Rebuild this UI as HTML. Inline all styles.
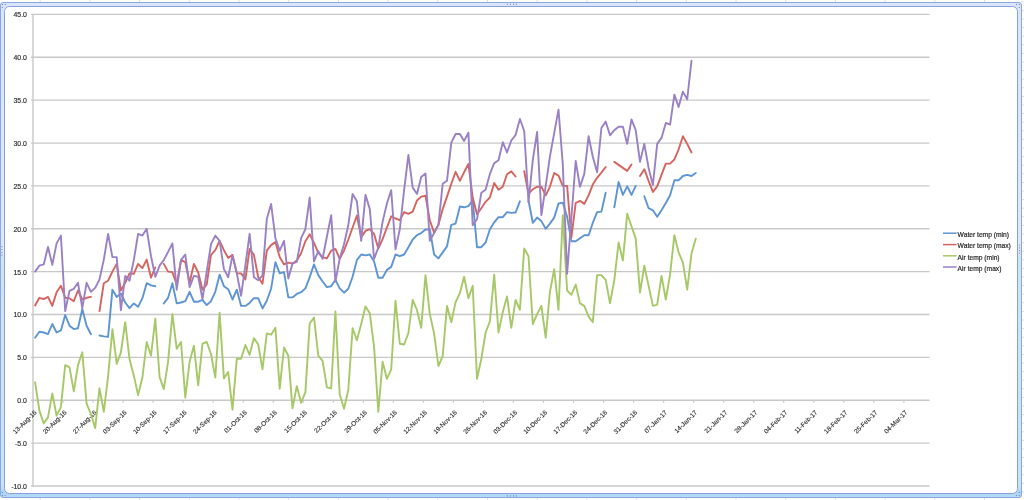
<!DOCTYPE html><html><head><meta charset="utf-8"><title>Water and air temperature chart</title><style>html,body{margin:0;padding:0;background:#fff;width:1024px;height:500px;overflow:hidden}svg{display:block}text{font-family:"Liberation Sans",Arial,sans-serif;}</style></head><body><svg width="1024" height="500" viewBox="0 0 1024 500"><defs><linearGradient id="band" x1="0" y1="0" x2="0" y2="1"><stop offset="0" stop-color="#d8e5fb"/><stop offset="0.5" stop-color="#dde9fb"/><stop offset="0.515" stop-color="#cde5f1"/><stop offset="0.975" stop-color="#c8e3f2"/><stop offset="0.99" stop-color="#acd6f5"/><stop offset="1" stop-color="#b8dcf6"/></linearGradient></defs><rect x="0" y="0" width="1024" height="500" fill="#ffffff"/><g stroke="#dcdcdc" stroke-width="1"><line x1="40.2" y1="0" x2="40.2" y2="3"/><line x1="40.2" y1="497" x2="40.2" y2="500"/><line x1="89.9" y1="0" x2="89.9" y2="3"/><line x1="89.9" y1="497" x2="89.9" y2="500"/><line x1="139.6" y1="0" x2="139.6" y2="3"/><line x1="139.6" y1="497" x2="139.6" y2="500"/><line x1="189.3" y1="0" x2="189.3" y2="3"/><line x1="189.3" y1="497" x2="189.3" y2="500"/><line x1="239.0" y1="0" x2="239.0" y2="3"/><line x1="239.0" y1="497" x2="239.0" y2="500"/><line x1="288.7" y1="0" x2="288.7" y2="3"/><line x1="288.7" y1="497" x2="288.7" y2="500"/><line x1="338.4" y1="0" x2="338.4" y2="3"/><line x1="338.4" y1="497" x2="338.4" y2="500"/><line x1="388.1" y1="0" x2="388.1" y2="3"/><line x1="388.1" y1="497" x2="388.1" y2="500"/><line x1="437.8" y1="0" x2="437.8" y2="3"/><line x1="437.8" y1="497" x2="437.8" y2="500"/><line x1="487.5" y1="0" x2="487.5" y2="3"/><line x1="487.5" y1="497" x2="487.5" y2="500"/><line x1="537.2" y1="0" x2="537.2" y2="3"/><line x1="537.2" y1="497" x2="537.2" y2="500"/><line x1="586.9" y1="0" x2="586.9" y2="3"/><line x1="586.9" y1="497" x2="586.9" y2="500"/><line x1="636.6" y1="0" x2="636.6" y2="3"/><line x1="636.6" y1="497" x2="636.6" y2="500"/><line x1="686.3" y1="0" x2="686.3" y2="3"/><line x1="686.3" y1="497" x2="686.3" y2="500"/><line x1="736.0" y1="0" x2="736.0" y2="3"/><line x1="736.0" y1="497" x2="736.0" y2="500"/><line x1="785.7" y1="0" x2="785.7" y2="3"/><line x1="785.7" y1="497" x2="785.7" y2="500"/><line x1="835.4" y1="0" x2="835.4" y2="3"/><line x1="835.4" y1="497" x2="835.4" y2="500"/><line x1="885.1" y1="0" x2="885.1" y2="3"/><line x1="885.1" y1="497" x2="885.1" y2="500"/><line x1="934.8" y1="0" x2="934.8" y2="3"/><line x1="934.8" y1="497" x2="934.8" y2="500"/><line x1="984.5" y1="0" x2="984.5" y2="3"/><line x1="984.5" y1="497" x2="984.5" y2="500"/><line x1="1021" y1="1.8" x2="1024" y2="1.8"/><line x1="1021" y1="10.4" x2="1024" y2="10.4"/><line x1="1021" y1="19.0" x2="1024" y2="19.0"/><line x1="1021" y1="27.6" x2="1024" y2="27.6"/><line x1="1021" y1="36.2" x2="1024" y2="36.2"/><line x1="1021" y1="44.8" x2="1024" y2="44.8"/><line x1="1021" y1="53.4" x2="1024" y2="53.4"/><line x1="1021" y1="62.0" x2="1024" y2="62.0"/><line x1="1021" y1="70.6" x2="1024" y2="70.6"/><line x1="1021" y1="79.2" x2="1024" y2="79.2"/><line x1="1021" y1="87.8" x2="1024" y2="87.8"/><line x1="1021" y1="96.4" x2="1024" y2="96.4"/><line x1="1021" y1="105.0" x2="1024" y2="105.0"/><line x1="1021" y1="113.6" x2="1024" y2="113.6"/><line x1="1021" y1="122.2" x2="1024" y2="122.2"/><line x1="1021" y1="130.8" x2="1024" y2="130.8"/><line x1="1021" y1="139.4" x2="1024" y2="139.4"/><line x1="1021" y1="148.0" x2="1024" y2="148.0"/><line x1="1021" y1="156.6" x2="1024" y2="156.6"/><line x1="1021" y1="165.2" x2="1024" y2="165.2"/><line x1="1021" y1="173.8" x2="1024" y2="173.8"/><line x1="1021" y1="182.4" x2="1024" y2="182.4"/><line x1="1021" y1="191.0" x2="1024" y2="191.0"/><line x1="1021" y1="199.6" x2="1024" y2="199.6"/><line x1="1021" y1="208.2" x2="1024" y2="208.2"/><line x1="1021" y1="216.8" x2="1024" y2="216.8"/><line x1="1021" y1="225.4" x2="1024" y2="225.4"/><line x1="1021" y1="234.0" x2="1024" y2="234.0"/><line x1="1021" y1="242.6" x2="1024" y2="242.6"/><line x1="1021" y1="251.2" x2="1024" y2="251.2"/><line x1="1021" y1="259.8" x2="1024" y2="259.8"/><line x1="1021" y1="268.4" x2="1024" y2="268.4"/><line x1="1021" y1="277.0" x2="1024" y2="277.0"/><line x1="1021" y1="285.6" x2="1024" y2="285.6"/><line x1="1021" y1="294.2" x2="1024" y2="294.2"/><line x1="1021" y1="302.8" x2="1024" y2="302.8"/><line x1="1021" y1="311.4" x2="1024" y2="311.4"/><line x1="1021" y1="320.0" x2="1024" y2="320.0"/><line x1="1021" y1="328.6" x2="1024" y2="328.6"/><line x1="1021" y1="337.2" x2="1024" y2="337.2"/><line x1="1021" y1="345.8" x2="1024" y2="345.8"/><line x1="1021" y1="354.4" x2="1024" y2="354.4"/><line x1="1021" y1="363.0" x2="1024" y2="363.0"/><line x1="1021" y1="371.6" x2="1024" y2="371.6"/><line x1="1021" y1="380.2" x2="1024" y2="380.2"/><line x1="1021" y1="388.8" x2="1024" y2="388.8"/><line x1="1021" y1="397.4" x2="1024" y2="397.4"/><line x1="1021" y1="406.0" x2="1024" y2="406.0"/><line x1="1021" y1="414.6" x2="1024" y2="414.6"/><line x1="1021" y1="423.2" x2="1024" y2="423.2"/><line x1="1021" y1="431.8" x2="1024" y2="431.8"/><line x1="1021" y1="440.4" x2="1024" y2="440.4"/><line x1="1021" y1="449.0" x2="1024" y2="449.0"/><line x1="1021" y1="457.6" x2="1024" y2="457.6"/><line x1="1021" y1="466.2" x2="1024" y2="466.2"/><line x1="1021" y1="474.8" x2="1024" y2="474.8"/><line x1="1021" y1="483.4" x2="1024" y2="483.4"/><line x1="1021" y1="492.0" x2="1024" y2="492.0"/></g><rect x="0.5" y="2.5" width="1021" height="495" rx="2.5" fill="url(#band)" stroke="#8ca5e3" stroke-width="1"/><rect x="5.5" y="7.5" width="1011" height="485" rx="4.5" fill="none" stroke="#ececec" stroke-width="1"/><rect x="4.5" y="6.5" width="1013" height="487" rx="5" fill="#ffffff" stroke="#8b9fe0" stroke-width="1"/><rect x="6" y="8" width="1010" height="484" rx="4" fill="#ffffff"/><g fill="#4a5f86" fill-opacity="0.75"><rect x="1.9" y="4.0" width="1" height="1"/><rect x="4.7" y="4.0" width="1" height="1"/><rect x="1.9" y="6.9" width="1" height="1"/><rect x="1015.9" y="4.0" width="1" height="1"/><rect x="1018.8" y="4.0" width="1" height="1"/><rect x="1018.8" y="7.0" width="1" height="1"/><rect x="1.9" y="491.9" width="1" height="1"/><rect x="1.9" y="494.9" width="1" height="1"/><rect x="4.6" y="494.9" width="1" height="1"/><rect x="1018.8" y="491.9" width="1" height="1"/><rect x="1015.9" y="494.9" width="1" height="1"/><rect x="1018.8" y="494.9" width="1" height="1"/><rect x="506.8" y="3.8" width="1" height="1"/><rect x="506.8" y="495.4" width="1" height="1"/><rect x="509.9" y="3.8" width="1" height="1"/><rect x="509.9" y="495.4" width="1" height="1"/><rect x="513.0" y="3.8" width="1" height="1"/><rect x="513.0" y="495.4" width="1" height="1"/><rect x="515.8" y="3.8" width="1" height="1"/><rect x="515.8" y="495.4" width="1" height="1"/><rect x="1.4" y="246.1" width="1" height="1"/><rect x="1.4" y="249.0" width="1" height="1"/><rect x="1.4" y="251.9" width="1" height="1"/><rect x="1.4" y="254.6" width="1" height="1"/><rect x="1019.1" y="244.7" width="1" height="1"/><rect x="1019.1" y="247.4" width="1" height="1"/><rect x="1019.1" y="250.0" width="1" height="1"/><rect x="1019.1" y="252.6" width="1" height="1"/></g><g stroke="#c8c8c8" stroke-width="1.3"><line x1="31" y1="14.40" x2="929.5" y2="14.40"/><line x1="31" y1="57.27" x2="929.5" y2="57.27"/><line x1="31" y1="100.15" x2="929.5" y2="100.15"/><line x1="31" y1="143.03" x2="929.5" y2="143.03"/><line x1="31" y1="185.90" x2="929.5" y2="185.90"/><line x1="31" y1="228.77" x2="929.5" y2="228.77"/><line x1="31" y1="271.65" x2="929.5" y2="271.65"/><line x1="31" y1="314.52" x2="929.5" y2="314.52"/><line x1="31" y1="357.40" x2="929.5" y2="357.40"/><line x1="31" y1="400.27" x2="929.5" y2="400.27"/><line x1="31" y1="443.15" x2="929.5" y2="443.15"/><line x1="31" y1="486.02" x2="929.5" y2="486.02"/></g><line x1="33.00" y1="14.40" x2="33.00" y2="486.62" stroke="#c8c8c8" stroke-width="1.4"/><g stroke="#c8c8c8" stroke-width="1.2"><line x1="33.00" y1="400.27" x2="33.00" y2="402.77"/><line x1="63.03" y1="400.27" x2="63.03" y2="402.77"/><line x1="93.06" y1="400.27" x2="93.06" y2="402.77"/><line x1="123.09" y1="400.27" x2="123.09" y2="402.77"/><line x1="153.12" y1="400.27" x2="153.12" y2="402.77"/><line x1="183.15" y1="400.27" x2="183.15" y2="402.77"/><line x1="213.18" y1="400.27" x2="213.18" y2="402.77"/><line x1="243.21" y1="400.27" x2="243.21" y2="402.77"/><line x1="273.24" y1="400.27" x2="273.24" y2="402.77"/><line x1="303.27" y1="400.27" x2="303.27" y2="402.77"/><line x1="333.30" y1="400.27" x2="333.30" y2="402.77"/><line x1="363.33" y1="400.27" x2="363.33" y2="402.77"/><line x1="393.36" y1="400.27" x2="393.36" y2="402.77"/><line x1="423.39" y1="400.27" x2="423.39" y2="402.77"/><line x1="453.42" y1="400.27" x2="453.42" y2="402.77"/><line x1="483.45" y1="400.27" x2="483.45" y2="402.77"/><line x1="513.48" y1="400.27" x2="513.48" y2="402.77"/><line x1="543.51" y1="400.27" x2="543.51" y2="402.77"/><line x1="573.54" y1="400.27" x2="573.54" y2="402.77"/><line x1="603.57" y1="400.27" x2="603.57" y2="402.77"/><line x1="633.60" y1="400.27" x2="633.60" y2="402.77"/><line x1="663.63" y1="400.27" x2="663.63" y2="402.77"/><line x1="693.66" y1="400.27" x2="693.66" y2="402.77"/><line x1="723.69" y1="400.27" x2="723.69" y2="402.77"/><line x1="753.72" y1="400.27" x2="753.72" y2="402.77"/><line x1="783.75" y1="400.27" x2="783.75" y2="402.77"/><line x1="813.78" y1="400.27" x2="813.78" y2="402.77"/><line x1="843.81" y1="400.27" x2="843.81" y2="402.77"/><line x1="873.84" y1="400.27" x2="873.84" y2="402.77"/><line x1="903.87" y1="400.27" x2="903.87" y2="402.77"/></g><g font-size="6.9" fill="#2a2a2a" stroke="#2a2a2a" stroke-width="0.15"><text x="26.9" y="17.30" text-anchor="end">45.0</text><text x="26.9" y="60.17" text-anchor="end">40.0</text><text x="26.9" y="103.05" text-anchor="end">35.0</text><text x="26.9" y="145.93" text-anchor="end">30.0</text><text x="26.9" y="188.80" text-anchor="end">25.0</text><text x="26.9" y="231.67" text-anchor="end">20.0</text><text x="26.9" y="274.55" text-anchor="end">15.0</text><text x="26.9" y="317.42" text-anchor="end">10.0</text><text x="26.9" y="360.30" text-anchor="end">5.0</text><text x="26.9" y="403.17" text-anchor="end">0.0</text><text x="26.9" y="446.05" text-anchor="end">-5.0</text><text x="26.9" y="488.92" text-anchor="end">-10.0</text></g><g font-size="6.5" fill="#2a2a2a" stroke="#2a2a2a" stroke-width="0.12"><text transform="translate(37.00,412.87) rotate(-45)" text-anchor="end">13-Aug-16</text><text transform="translate(67.03,412.87) rotate(-45)" text-anchor="end">20-Aug-16</text><text transform="translate(97.06,412.87) rotate(-45)" text-anchor="end">27-Aug-16</text><text transform="translate(127.09,412.87) rotate(-45)" text-anchor="end">03-Sep-16</text><text transform="translate(157.12,412.87) rotate(-45)" text-anchor="end">10-Sep-16</text><text transform="translate(187.15,412.87) rotate(-45)" text-anchor="end">17-Sep-16</text><text transform="translate(217.18,412.87) rotate(-45)" text-anchor="end">24-Sep-16</text><text transform="translate(247.21,412.87) rotate(-45)" text-anchor="end">01-Oct-16</text><text transform="translate(277.24,412.87) rotate(-45)" text-anchor="end">08-Oct-16</text><text transform="translate(307.27,412.87) rotate(-45)" text-anchor="end">15-Oct-16</text><text transform="translate(337.30,412.87) rotate(-45)" text-anchor="end">22-Oct-16</text><text transform="translate(367.33,412.87) rotate(-45)" text-anchor="end">29-Oct-16</text><text transform="translate(397.36,412.87) rotate(-45)" text-anchor="end">05-Nov-16</text><text transform="translate(427.39,412.87) rotate(-45)" text-anchor="end">12-Nov-16</text><text transform="translate(457.42,412.87) rotate(-45)" text-anchor="end">19-Nov-16</text><text transform="translate(487.45,412.87) rotate(-45)" text-anchor="end">26-Nov-16</text><text transform="translate(517.48,412.87) rotate(-45)" text-anchor="end">03-Dec-16</text><text transform="translate(547.51,412.87) rotate(-45)" text-anchor="end">10-Dec-16</text><text transform="translate(577.54,412.87) rotate(-45)" text-anchor="end">17-Dec-16</text><text transform="translate(607.57,412.87) rotate(-45)" text-anchor="end">24-Dec-16</text><text transform="translate(637.60,412.87) rotate(-45)" text-anchor="end">31-Dec-16</text><text transform="translate(667.63,412.87) rotate(-45)" text-anchor="end">07-Jan-17</text><text transform="translate(697.66,412.87) rotate(-45)" text-anchor="end">14-Jan-17</text><text transform="translate(727.69,412.87) rotate(-45)" text-anchor="end">21-Jan-17</text><text transform="translate(757.72,412.87) rotate(-45)" text-anchor="end">28-Jan-17</text><text transform="translate(787.75,412.87) rotate(-45)" text-anchor="end">04-Feb-17</text><text transform="translate(817.78,412.87) rotate(-45)" text-anchor="end">11-Feb-17</text><text transform="translate(847.81,412.87) rotate(-45)" text-anchor="end">18-Feb-17</text><text transform="translate(877.84,412.87) rotate(-45)" text-anchor="end">25-Feb-17</text><text transform="translate(907.87,412.87) rotate(-45)" text-anchor="end">04-Mar-17</text></g><polyline points="35.1,337.7 39.4,331.7 43.7,332.5 48.0,334.2 52.3,324.0 56.6,332.5 60.9,330.4 65.2,315.0 69.5,325.7 73.8,329.1 78.0,328.2 82.3,309.0 86.6,325.7 90.9,334.2" fill="none" stroke="#5d95d3" stroke-width="1.9" stroke-linejoin="round" stroke-linecap="round"/><polyline points="99.5,335.5 103.8,336.4 108.1,336.8 112.4,289.7 116.7,296.9 120.9,293.5 125.2,302.5 129.5,308.1 133.8,303.4 138.1,306.8 142.4,298.2 146.7,283.2 151.0,285.4 155.3,286.2" fill="none" stroke="#5d95d3" stroke-width="1.9" stroke-linejoin="round" stroke-linecap="round"/><polyline points="163.8,303.4 168.1,297.8 172.4,283.2 176.7,303.4 181.0,302.5 185.3,301.2 189.6,291.8 193.9,301.7 198.2,301.7 202.5,299.9 206.7,305.1 211.0,301.2 215.3,291.8 219.6,274.7 223.9,286.2 228.2,289.2 232.5,299.5 236.8,289.7 241.1,305.9 245.4,305.9 249.6,302.9 253.9,298.2 258.2,298.2 262.5,308.5 266.8,300.8 271.1,288.8 275.4,262.2 279.7,273.4 284.0,272.1 288.3,297.4 292.5,297.4 296.8,293.9 301.1,292.2 305.4,288.4 309.7,277.2 314.0,264.4 318.3,275.1 322.6,281.5 326.9,287.1 331.2,286.2 335.4,279.8 339.7,288.4 344.0,292.7 348.3,288.8 352.6,276.8 356.9,260.1 361.2,254.5 365.5,255.4 369.8,254.5 374.1,261.4 378.3,277.7 382.6,277.7 386.9,269.9 391.2,266.9 395.5,254.5 399.8,256.2 404.1,254.5 408.4,247.2 412.7,239.5 417.0,235.2 421.2,233.1 425.5,229.6 429.8,229.2 434.1,254.5 438.4,258.4 442.7,252.4 447.0,246.4 451.3,224.9 455.6,223.6 459.9,206.5 464.1,207.3 468.4,206.1 472.7,200.0 477.0,247.2 481.3,247.2 485.6,242.5 489.9,229.2 494.2,222.3 498.5,217.2 502.8,217.2 507.0,212.1 511.3,212.9 515.6,212.5 519.9,201.3" fill="none" stroke="#5d95d3" stroke-width="1.9" stroke-linejoin="round" stroke-linecap="round"/><polyline points="528.5,200.5 532.8,222.8 537.1,217.6 541.4,221.1 545.7,228.8 549.9,223.6 554.2,217.6 558.5,203.5 562.8,202.6 567.1,216.8 571.4,241.2 575.7,241.2 580.0,238.2 584.3,235.2 588.6,235.2 592.8,222.8 597.1,212.1 601.4,211.6 605.7,192.8" fill="none" stroke="#5d95d3" stroke-width="1.9" stroke-linejoin="round" stroke-linecap="round"/><polyline points="614.3,207.3 618.6,182.0 622.9,194.9 627.2,186.3 631.5,194.9 635.7,185.9" fill="none" stroke="#5d95d3" stroke-width="1.9" stroke-linejoin="round" stroke-linecap="round"/><polyline points="644.3,196.2 648.6,208.2 652.9,210.3 657.2,216.8 661.5,210.3 665.8,203.0 670.1,195.3 674.4,180.3 678.6,180.3 682.9,176.0 687.2,174.8 691.5,176.0 695.8,173.0" fill="none" stroke="#5d95d3" stroke-width="1.9" stroke-linejoin="round" stroke-linecap="round"/><polyline points="35.1,305.5 39.4,297.8 43.7,299.1 48.0,296.9 52.3,305.9 56.6,292.2 60.9,285.8 65.2,297.8 69.5,298.2 73.8,301.2 78.0,290.5 82.3,299.5 86.6,297.8 90.9,296.9" fill="none" stroke="#d5645e" stroke-width="1.9" stroke-linejoin="round" stroke-linecap="round"/><polyline points="99.5,311.1 103.8,283.2 108.1,280.7 112.4,271.6 116.7,263.9 120.9,290.5 125.2,282.8 129.5,273.4 133.8,273.8 138.1,263.9 142.4,268.2 146.7,259.6 151.0,277.7 155.3,267.4" fill="none" stroke="#d5645e" stroke-width="1.9" stroke-linejoin="round" stroke-linecap="round"/><polyline points="163.8,263.9 168.1,271.6 172.4,272.1 176.7,284.5 181.0,260.1 185.3,262.2 189.6,282.8 193.9,263.9 198.2,272.5 202.5,289.7 206.7,284.5 211.0,254.9 215.3,250.2 219.6,240.8 223.9,250.2 228.2,257.9 232.5,254.9 236.8,273.4 241.1,273.4 245.4,279.4 249.6,248.9 253.9,254.9 258.2,277.2 262.5,283.7 266.8,250.6 271.1,245.1 275.4,242.1 279.7,257.1 284.0,264.4 288.3,262.6 292.5,263.5 296.8,260.5 301.1,253.2 305.4,241.2 309.7,234.3 314.0,242.9 318.3,252.8 322.6,257.1 326.9,258.4 331.2,250.6 335.4,248.9 339.7,258.8 344.0,250.6 348.3,239.5 352.6,227.5 356.9,215.5 361.2,237.3 365.5,230.9 369.8,229.2 374.1,233.9 378.3,248.5 382.6,239.1 386.9,227.5 391.2,216.3 395.5,218.5 399.8,220.2 404.1,212.1 408.4,213.8 412.7,211.6 417.0,200.5 421.2,196.6 425.5,195.8 429.8,220.2 434.1,232.6 438.4,224.9 442.7,209.1 447.0,196.6 451.3,183.8 455.6,171.8 459.9,180.8 464.1,172.2 468.4,164.0 472.7,197.5 477.0,214.2 481.3,208.2 485.6,201.8 489.9,197.5 494.2,182.9 498.5,189.8 502.8,186.8 507.0,174.3 511.3,171.3 515.6,176.5" fill="none" stroke="#d5645e" stroke-width="1.9" stroke-linejoin="round" stroke-linecap="round"/><polyline points="524.2,171.3 528.5,193.6 532.8,189.3 537.1,186.8 541.4,186.8 545.7,195.3 549.9,186.8 554.2,173.0 558.5,175.6 562.8,185.9 567.1,185.9 571.4,237.3 575.7,203.0 580.0,200.9 584.3,203.9 588.6,195.3 592.8,184.6 597.1,177.8 601.4,172.6 605.7,167.0" fill="none" stroke="#d5645e" stroke-width="1.9" stroke-linejoin="round" stroke-linecap="round"/><polyline points="614.3,161.9 618.6,164.9 622.9,167.9 627.2,170.9 631.5,164.5" fill="none" stroke="#d5645e" stroke-width="1.9" stroke-linejoin="round" stroke-linecap="round"/><polyline points="640.0,176.0 644.3,169.2 648.6,180.8 652.9,191.9 657.2,186.3 661.5,174.8 665.8,163.6 670.1,163.6 674.4,159.3 678.6,149.5 682.9,136.2 687.2,143.9 691.5,152.5" fill="none" stroke="#d5645e" stroke-width="1.9" stroke-linejoin="round" stroke-linecap="round"/><polyline points="35.1,382.3 39.4,410.6 43.7,423.4 48.0,417.4 52.3,393.4 56.6,415.7 60.9,407.1 65.2,365.1 69.5,367.3 73.8,391.3 78.0,365.1 82.3,352.3 86.6,403.7 90.9,414.0 95.2,428.1 99.5,388.3 103.8,411.9 108.1,376.3 112.4,329.1 116.7,363.8 120.9,352.3 125.2,322.2 129.5,359.1 133.8,375.4 138.1,395.1 142.4,377.6 146.7,342.0 151.0,355.7 155.3,318.8 159.6,377.1 163.8,389.1 168.1,361.7 172.4,314.1 176.7,348.8 181.0,342.0 185.3,397.7 189.6,361.7 193.9,345.8 198.2,385.3 202.5,343.7 206.7,342.0 211.0,354.0 215.3,377.6 219.6,312.8 223.9,378.4 228.2,372.0 232.5,409.7 236.8,358.7 241.1,358.7 245.4,345.0 249.6,354.8 253.9,338.1 258.2,344.5 262.5,369.4 266.8,333.4 271.1,334.7 275.4,327.8 279.7,388.7 284.0,347.5 288.3,355.7 292.5,408.4 296.8,386.1 301.1,402.8 305.4,392.1 309.7,323.5 314.0,317.5 318.3,355.7 322.6,360.8 326.9,387.4 331.2,388.3 335.4,311.5 339.7,394.3 344.0,408.8 348.3,390.0 352.6,328.2 356.9,340.2 361.2,324.0 365.5,306.4 369.8,313.2 374.1,347.1 378.3,411.9 382.6,361.7 386.9,378.8 391.2,369.4 395.5,300.8 399.8,343.7 404.1,344.5 408.4,333.0 412.7,299.9 417.0,310.2 421.2,327.8 425.5,275.1 429.8,314.1 434.1,333.4 438.4,366.0 442.7,356.1 447.0,305.9 451.3,322.2 455.6,302.1 459.9,293.1 464.1,276.8 468.4,298.2 472.7,285.8 477.0,378.8 481.3,359.1 485.6,332.5 489.9,321.4 494.2,274.7 498.5,332.5 502.8,312.0 507.0,296.5 511.3,327.8 515.6,299.9 519.9,309.8 524.2,248.5 528.5,256.2 532.8,324.0 537.1,314.1 541.4,305.9 545.7,337.7 549.9,292.2 554.2,269.1 558.5,309.8 562.8,215.1 567.1,290.5 571.4,294.8 575.7,284.5 580.0,303.4 584.3,305.9 588.6,316.7 592.8,322.2 597.1,275.1 601.4,275.1 605.7,279.8 610.0,303.4 614.3,280.2 618.6,242.5 622.9,260.5 627.2,213.8 631.5,226.2 635.7,238.6 640.0,292.7 644.3,265.6 648.6,285.8 652.9,305.9 657.2,304.7 661.5,275.9 665.8,299.5 670.1,274.2 674.4,235.2 678.6,252.4 682.9,262.6 687.2,289.7 691.5,253.6 695.8,238.6" fill="none" stroke="#a6c866" stroke-width="1.9" stroke-linejoin="round" stroke-linecap="round"/><polyline points="35.1,271.6 39.4,265.6 43.7,264.4 48.0,247.0 52.3,264.8 56.6,243.4 60.9,235.6 65.2,311.1 69.5,290.9 73.8,288.8 78.0,282.8 82.3,308.1 86.6,282.8 90.9,291.8 95.2,287.9 99.5,279.4 103.8,259.6 108.1,233.9 112.4,257.1 116.7,257.1 120.9,310.2 125.2,275.9 129.5,280.7 133.8,260.1 138.1,233.9 142.4,235.6 146.7,228.8 151.0,256.2 155.3,276.8 159.6,265.6 163.8,260.1 168.1,251.9 172.4,243.4 176.7,289.7 181.0,260.1 185.3,254.5 189.6,287.1 193.9,275.9 198.2,276.8 202.5,299.1 206.7,271.6 211.0,244.2 215.3,235.6 219.6,240.8 223.9,269.1 228.2,277.2 232.5,255.4 236.8,273.4 241.1,295.7 245.4,265.2 249.6,233.9 253.9,277.2 258.2,280.2 262.5,275.5 266.8,218.9 271.1,203.9 275.4,238.2 279.7,250.6 284.0,240.8 288.3,278.5 292.5,263.5 296.8,261.8 301.1,238.2 305.4,229.2 309.7,197.5 314.0,261.4 318.3,251.1 322.6,258.8 326.9,236.5 331.2,215.1 335.4,281.5 339.7,258.8 344.0,244.2 348.3,225.3 352.6,194.0 356.9,201.3 361.2,240.8 365.5,194.9 369.8,209.1 374.1,258.8 378.3,247.6 382.6,221.9 386.9,203.5 391.2,190.2 395.5,249.4 399.8,229.2 404.1,190.2 408.4,155.0 412.7,187.6 417.0,194.0 421.2,176.9 425.5,173.5 429.8,240.8 434.1,233.1 438.4,224.9 442.7,183.8 447.0,180.8 451.3,142.6 455.6,134.0 459.9,134.0 464.1,140.9 468.4,132.7 472.7,225.3 477.0,219.3 481.3,192.8 485.6,189.8 489.9,173.9 494.2,163.2 498.5,160.2 502.8,142.2 507.0,152.5 511.3,140.5 515.6,134.9 519.9,119.0 524.2,131.0 528.5,202.2 532.8,160.2 537.1,131.9 541.4,215.1 545.7,185.9 549.9,156.7 554.2,133.2 558.5,109.6 562.8,164.5 567.1,273.8 571.4,217.6 575.7,161.0 580.0,186.8 584.3,173.9 588.6,136.2 592.8,156.7 597.1,172.2 601.4,128.0 605.7,121.6 610.0,135.3 614.3,130.2 618.6,126.7 622.9,126.7 627.2,143.9 631.5,119.4 635.7,130.2 640.0,161.9 644.3,143.9 648.6,167.9 652.9,185.0 657.2,143.9 661.5,137.9 665.8,122.9 670.1,124.6 674.4,94.6 678.6,107.0 682.9,91.6 687.2,99.3 691.5,60.7" fill="none" stroke="#9a80c4" stroke-width="1.9" stroke-linejoin="round" stroke-linecap="round"/><line x1="943" y1="233.2" x2="956.6" y2="233.2" stroke="#5d95d3" stroke-width="1.5"/><text x="957.6" y="237.00" font-size="6.7" fill="#2a2a2a" stroke="#2a2a2a" stroke-width="0.2">Water temp (min)</text><line x1="943" y1="244.6" x2="956.6" y2="244.6" stroke="#d5645e" stroke-width="1.5"/><text x="957.6" y="248.40" font-size="6.7" fill="#2a2a2a" stroke="#2a2a2a" stroke-width="0.2">Water temp (max)</text><line x1="943" y1="255.8" x2="956.6" y2="255.8" stroke="#a6c866" stroke-width="1.5"/><text x="957.6" y="259.60" font-size="6.7" fill="#2a2a2a" stroke="#2a2a2a" stroke-width="0.2">Air temp (min)</text><line x1="943" y1="267.0" x2="956.6" y2="267.0" stroke="#9a80c4" stroke-width="1.5"/><text x="957.6" y="270.80" font-size="6.7" fill="#2a2a2a" stroke="#2a2a2a" stroke-width="0.2">Air temp (max)</text></svg></body></html>
